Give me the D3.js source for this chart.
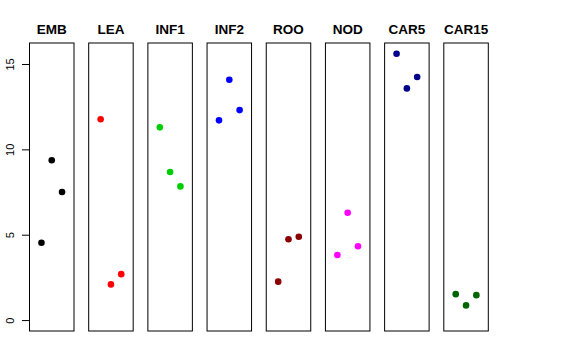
<!DOCTYPE html>
<html><head><meta charset="utf-8">
<script src="https://cdn.jsdelivr.net/npm/d3@7"></script>
<style>body{margin:0;background:#fff}svg{display:block}</style>
</head><body>
<script>
const categories = ["EMB","LEA","INF1","INF2","ROO","NOD","CAR5","CAR15"];
const colors = ["#000000","#FF0000","#00CD00","#0000FF","#8B0000","#FF00FF","#00008B","#006400"];
const rep1 = [4.53, 11.76, 11.29, 11.70, 2.25, 3.81, 15.60, 1.52];
const rep2 = [9.36, 2.09, 8.67, 14.08, 4.73, 6.29, 13.57, 0.86];
const rep3 = [7.50, 2.69, 7.83, 12.30, 4.88, 4.32, 14.24, 1.46];
const yTicks = [0, 5, 10, 15];

const W = 576, H = 360;
const svg = d3.select("body").append("svg").attr("width", W).attr("height", H);

const y = d3.scaleLinear().domain([-0.64, 16.23]).range([331, 43]);
const panelW = 44.5;
const px = d3.scalePoint().domain(categories).range([29, 443.3]);
const inner = d3.scalePoint().domain([0,1,2]).range([-10.3, 10.3]);

// y axis
const ax = svg.append("g").attr("transform","translate(29,0)")
  .call(d3.axisLeft(y).tickValues(yTicks).tickSize(7).tickPadding(4).tickFormat(d3.format("d")));
ax.select(".domain").remove();
ax.selectAll("line").attr("stroke","#000");
ax.selectAll("text").attr("font-family","Liberation Sans, Arial, sans-serif").attr("font-size",11)
  .attr("fill","#000")
  .attr("x", 0).attr("y", 0).attr("dy", "0")
  .attr("transform", "translate(-15,0) rotate(-90)")
  .attr("text-anchor","middle");

categories.forEach((c, i) => {
  const g = svg.append("g").attr("transform", `translate(${px(c)},0)`);
  g.append("rect").attr("x", 0.5).attr("y", y(16.23)).attr("width", panelW).attr("height", y(-0.64) - y(16.23))
    .attr("fill","none").attr("stroke","#000").attr("stroke-width",1);
  g.append("text").attr("x", panelW/2 + 0.5).attr("y", 34).attr("text-anchor","middle")
    .attr("font-family","Liberation Sans, Arial, sans-serif").attr("font-weight","bold").attr("font-size",13.5)
    .text(c);
  const vals = [rep1[i], rep2[i], rep3[i]];
  g.selectAll("circle").data(vals).join("circle")
    .attr("cx", (d, j) => panelW/2 + 0.5 + inner(j))
    .attr("cy", d => y(d))
    .attr("r", 3.3)
    .attr("fill", colors[i]);
});
</script>
</body></html>
